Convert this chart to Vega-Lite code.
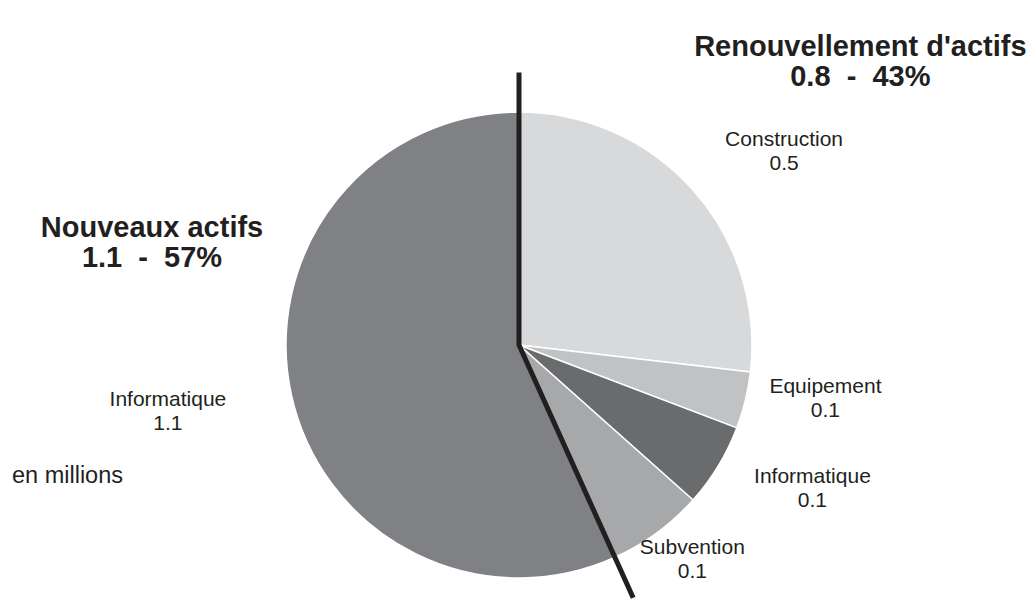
{
  "$schema": "https://vega.github.io/schema/vega-lite/v6.json",
  "width": 1024,
  "height": 508,
  "autosize": {"type": "none"},
  "padding": {"left": 7, "top": 91, "right": 0, "bottom": 0},
  "background": "white",
  "config": {"view": {"stroke": null}, "text": {"font": "Liberation Sans", "fill": "#231f20"}},
  "datasets": {
    "slices": [
      {"idx": 1, "key": "Construction (renouvellement)", "group": "Renouvellement d'actifs", "label": "Construction\n0.5", "value": 0.51},
      {"idx": 2, "key": "Equipement (renouvellement)", "group": "Renouvellement d'actifs", "label": "Equipement\n0.1", "value": 0.075},
      {"idx": 3, "key": "Informatique (renouvellement)", "group": "Renouvellement d'actifs", "label": "Informatique\n0.1", "value": 0.11},
      {"idx": 4, "key": "Subvention (renouvellement)", "group": "Renouvellement d'actifs", "label": "Subvention\n0.1", "value": 0.125},
      {"idx": 5, "key": "Informatique (nouveaux)", "group": "Nouveaux actifs", "label": "Informatique\n1.1", "value": 1.08}
    ],
    "divider": [
      {"o": 1, "px": 0, "py": 1.17},
      {"o": 2, "px": 0, "py": 0},
      {"o": 3, "px": 0.49, "py": -1.085}
    ],
    "headers": [
      {"group": "Renouvellement d'actifs", "text": "Renouvellement d'actifs\n0.8 \u00a0-\u00a0 43%"},
      {"group": "Nouveaux actifs", "text": "Nouveaux actifs\n1.1 \u00a0-\u00a0 57%"}
    ]
  },
  "layer": [
    {
      "data": {"name": "slices"},
      "mark": {"type": "arc", "outerRadius": 233, "stroke": "white", "strokeWidth": 1.5},
      "encoding": {
        "theta": {"field": "value", "type": "quantitative", "stack": true},
        "order": {"field": "idx", "type": "quantitative"},
        "color": {
          "field": "key",
          "type": "nominal",
          "scale": {
            "domain": ["Construction (renouvellement)", "Equipement (renouvellement)", "Informatique (renouvellement)", "Subvention (renouvellement)", "Informatique (nouveaux)"],
            "range": ["#d8d9db", "#c1c2c4", "#6a6b6d", "#a7a8aa", "#808184"]
          },
          "legend": null
        }
      }
    },
    {
      "data": {"name": "divider"},
      "mark": {"type": "line", "stroke": "#231f20", "strokeWidth": 5, "strokeCap": "butt", "strokeJoin": "miter"},
      "encoding": {
        "x": {"field": "px", "type": "quantitative", "scale": {"domain": [-2.19742, 2.19742], "nice": false, "zero": false}, "axis": null},
        "y": {"field": "py", "type": "quantitative", "scale": {"domain": [-1.09013, 1.09013], "nice": false, "zero": false}, "axis": null},
        "order": {"field": "o", "type": "quantitative"}
      }
    },
    {
      "data": {"name": "slices"},
      "mark": {"type": "text", "radius": 300, "dx": 41, "dy": -5, "fontSize": 21, "lineBreak": "\n", "lineHeight": 24, "align": "center", "baseline": "middle"},
      "encoding": {
        "theta": {"field": "value", "type": "quantitative", "stack": true},
        "order": {"field": "idx", "type": "quantitative"},
        "text": {"condition": {"test": "datum.idx === 1", "field": "label"}, "value": ""}
      }
    },
    {
      "data": {"name": "slices"},
      "mark": {"type": "text", "radius": 300, "dx": 15, "dy": -29, "fontSize": 21, "lineBreak": "\n", "lineHeight": 24, "align": "center", "baseline": "middle"},
      "encoding": {
        "theta": {"field": "value", "type": "quantitative", "stack": true},
        "order": {"field": "idx", "type": "quantitative"},
        "text": {"condition": {"test": "datum.idx === 2", "field": "label"}, "value": ""}
      }
    },
    {
      "data": {"name": "slices"},
      "mark": {"type": "text", "radius": 300, "dx": 37, "dy": -24, "fontSize": 21, "lineBreak": "\n", "lineHeight": 24, "align": "center", "baseline": "middle"},
      "encoding": {
        "theta": {"field": "value", "type": "quantitative", "stack": true},
        "order": {"field": "idx", "type": "quantitative"},
        "text": {"condition": {"test": "datum.idx === 3", "field": "label"}, "value": ""}
      }
    },
    {
      "data": {"name": "slices"},
      "mark": {"type": "text", "radius": 300, "dx": -5, "dy": -38, "fontSize": 21, "lineBreak": "\n", "lineHeight": 24, "align": "center", "baseline": "middle"},
      "encoding": {
        "theta": {"field": "value", "type": "quantitative", "stack": true},
        "order": {"field": "idx", "type": "quantitative"},
        "text": {"condition": {"test": "datum.idx === 4", "field": "label"}, "value": ""}
      }
    },
    {
      "data": {"name": "slices"},
      "mark": {"type": "text", "radius": 300, "dx": -58, "dy": -9, "fontSize": 21, "lineBreak": "\n", "lineHeight": 24, "align": "center", "baseline": "middle"},
      "encoding": {
        "theta": {"field": "value", "type": "quantitative", "stack": true},
        "order": {"field": "idx", "type": "quantitative"},
        "text": {"condition": {"test": "datum.idx === 5", "field": "label"}, "value": ""}
      }
    },
    {
      "data": {"name": "headers"},
      "transform": [{"filter": "datum.group === \"Renouvellement d'actifs\""}],
      "mark": {"type": "text", "fontSize": 29, "fontWeight": "bold", "lineBreak": "\n", "lineHeight": 30, "align": "center", "baseline": "middle"},
      "encoding": {
        "x": {"datum": 1.465, "type": "quantitative", "axis": null},
        "y": {"datum": 1.281, "type": "quantitative", "axis": null},
        "text": {"field": "text"}
      }
    },
    {
      "data": {"name": "headers"},
      "transform": [{"filter": "datum.group === 'Nouveaux actifs'"}],
      "mark": {"type": "text", "fontSize": 29, "fontWeight": "bold", "lineBreak": "\n", "lineHeight": 30, "align": "center", "baseline": "middle"},
      "encoding": {
        "x": {"datum": -1.575, "type": "quantitative", "axis": null},
        "y": {"datum": 0.504, "type": "quantitative", "axis": null},
        "text": {"field": "text"}
      }
    },
    {
      "data": {"values": [{"note": "en millions"}]},
      "mark": {"type": "text", "fontSize": 23.5, "align": "left", "baseline": "middle"},
      "encoding": {
        "x": {"datum": -2.176, "type": "quantitative", "axis": null},
        "y": {"datum": -0.5622, "type": "quantitative", "axis": null},
        "text": {"field": "note"}
      }
    }
  ]
}
